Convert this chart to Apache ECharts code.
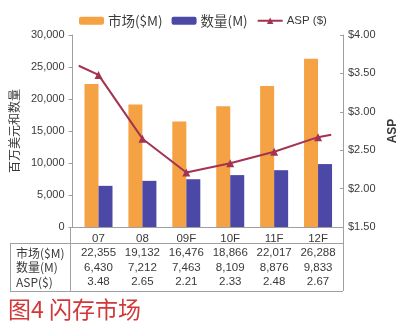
<!DOCTYPE html>
<html><head><meta charset="utf-8">
<script src="https://cdn.jsdelivr.net/npm/echarts@6/dist/echarts.min.js"></script>
<style>html,body{margin:0;padding:0;background:#fff}#c{width:408px;height:329px}</style>
</head><body><div id="c"></div>
<script>
const categories = ['07', '08', '09F', '10F', '11F', '12F'];
const marketValues = [22355, 19132, 16476, 18866, 22017, 26288];
const unitValues = [6430, 7212, 7463, 8109, 8876, 9833];
const aspValues = [3.48, 2.65, 2.21, 2.33, 2.48, 2.67];
// ASP line extends slightly beyond first/last category
const aspLeadIn = [-0.45, 3.60];
const aspLeadOut = [5.3, 2.70];
const leftTicks = [0, 5000, 10000, 15000, 20000, 25000, 30000];
const rightTicks = [1.5, 2.0, 2.5, 3.0, 3.5, 4.0];
const rowLabels = ['市场($M)', '数量(M)', 'ASP($)'];

const FONT = 'Liberation Sans, Arial, Noto Sans CJK SC, sans-serif';
const CJK = 'Noto Sans CJK SC, Liberation Sans, sans-serif';
const txt = '#3a3a3a';
const gridLine = '#a0a0a0';

const fmt = v => v.toLocaleString('en-US');

const aspData = [{value: aspLeadIn, symbol: 'none'}]
  .concat(aspValues.map((v, i) => [i, v]))
  .concat([{value: aspLeadOut, symbol: 'none'}]);

const chart = echarts.init(document.getElementById('c'), null, {renderer: 'canvas'});
chart.setOption({
  animation: false,
  backgroundColor: '#fff',
  textStyle: {fontFamily: FONT},
  legend: {
    left: 74, top: 9, itemWidth: 25, itemHeight: 8, itemGap: 9,
    textStyle: {fontFamily: CJK, fontSize: 13.5, color: txt, padding: [0, 0, 0, -1]},
    data: ['市场($M)', '数量(M)', {name: 'ASP ($)', textStyle: {fontSize: 11.5, fontFamily: FONT}}]
  },
  grid: {left: 74, right: 68, top: 35, bottom: 102},
  xAxis: [
    {type: 'category', data: categories, position: 'bottom',
     axisLine: {show: false}, axisTick: {show: false},
     axisLabel: {color: txt, fontSize: 11.5, margin: 6, fontFamily: FONT, interval: 0}},
    {type: 'value', min: -0.5, max: 5.5, show: false},
    {type: 'category', data: categories, position: 'bottom', offset: 17,
     axisLine: {show: false}, axisTick: {show: false},
     axisLabel: {color: txt, fontSize: 11.5, margin: 2, lineHeight: 14.5, fontFamily: FONT, interval: 0,
       formatter: (v, i) => fmt(marketValues[i]) + '\n' + fmt(unitValues[i]) + '\n' + aspValues[i].toFixed(2)}}
  ],
  yAxis: [
    {type: 'value', min: leftTicks[0], max: leftTicks[leftTicks.length - 1], interval: 5000, offset: 4,
     name: '百万美元和数量', nameLocation: 'middle', nameRotate: 90, nameGap: 52,
     nameTextStyle: {fontFamily: CJK, fontSize: 12, color: txt},
     axisLine: {show: true, onZero: false, lineStyle: {color: gridLine, width: 1}},
     axisTick: {show: true, length: 4, lineStyle: {color: gridLine}},
     axisLabel: {color: txt, fontSize: 11, margin: 8, formatter: v => fmt(v)},
     splitLine: {show: false}},
    {type: 'value', min: rightTicks[0], max: rightTicks[rightTicks.length - 1], interval: 0.5, offset: 3,
     position: 'right',
     name: 'ASP', nameLocation: 'middle', nameRotate: 90, nameGap: 42,
     nameTextStyle: {fontFamily: FONT, fontSize: 12, fontWeight: 'bold', color: txt},
     axisLine: {show: true, onZero: false, lineStyle: {color: gridLine, width: 1}},
     axisTick: {show: true, inside: true, length: 3, lineStyle: {color: gridLine}},
     axisLabel: {color: txt, fontSize: 11, margin: 5, formatter: v => '$' + v.toFixed(2)},
     splitLine: {show: false}}
  ],
  series: [
    {name: '市场($M)', type: 'bar', data: marketValues, barWidth: 14, barGap: '0%',
     itemStyle: {color: '#F4A244'}},
    {name: '数量(M)', type: 'bar', data: unitValues, barWidth: 14, barGap: '0%',
     itemStyle: {color: '#4B48A6'}},
    {name: 'ASP ($)', type: 'line', xAxisIndex: 1, yAxisIndex: 1, data: aspData,
     symbol: 'triangle', symbolSize: 8, showSymbol: true,
     lineStyle: {color: '#A33350', width: 2}, itemStyle: {color: '#A33350'}}
  ],
  graphic: [
    {type: 'line', shape: {x1: 70, y1: 227.5, x2: 343, y2: 227.5}, style: {stroke: gridLine, lineWidth: 1}, silent: true},
    {type: 'line', shape: {x1: 70.5, y1: 227, x2: 70.5, y2: 291}, style: {stroke: gridLine, lineWidth: 1}, silent: true},
    {type: 'line', shape: {x1: 343.5, y1: 227, x2: 343.5, y2: 291}, style: {stroke: gridLine, lineWidth: 1}, silent: true},
    {type: 'line', shape: {x1: 10, y1: 243.5, x2: 343, y2: 243.5}, style: {stroke: gridLine, lineWidth: 1}, silent: true},
    {type: 'line', shape: {x1: 10, y1: 291.5, x2: 343, y2: 291.5}, style: {stroke: gridLine, lineWidth: 1}, silent: true},
    {type: 'line', shape: {x1: 10.5, y1: 243, x2: 10.5, y2: 291}, style: {stroke: gridLine, lineWidth: 1}, silent: true},
    {type: 'text', left: 16, top: 246, silent: true,
     style: {text: rowLabels.join('\n'), fontFamily: CJK, fontSize: 12, lineHeight: 14.5, fill: txt}},
    {type: 'text', left: 8, top: 298, silent: true,
     style: {text: '图4 闪存市场', fontFamily: CJK, fontSize: 23, fill: '#D2383A'}}
  ]
});
</script></body></html>
